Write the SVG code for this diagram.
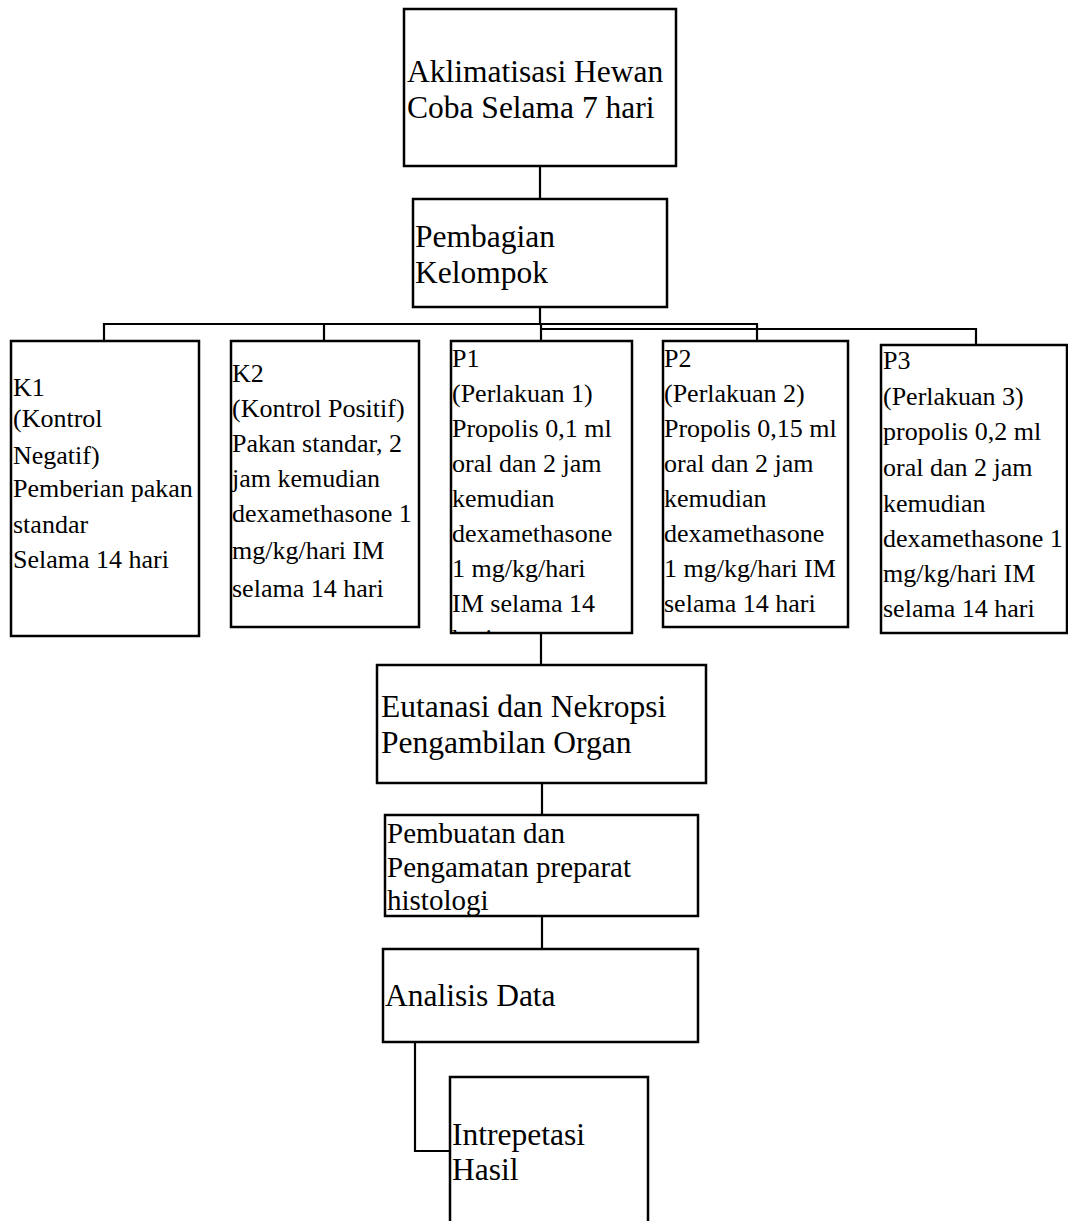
<svg xmlns="http://www.w3.org/2000/svg" width="1068" height="1221" viewBox="0 0 1068 1221">
<style>
  .box { fill: #ffffff; stroke: #000000; stroke-width: 2.5; }
  .t { font-family: "Liberation Serif", "Times New Roman", serif; fill: #000000; }
  .big { font-size: 31.5px; }
  .mid { font-size: 29px; }
  .sm { font-size: 26px; }
  .conn line, .conn polyline { stroke: #000000; stroke-width: 2.2; fill: none; }
</style>
<defs>
  <clipPath id="clipP1"><rect x="451" y="341" width="181" height="291"/></clipPath>
</defs>
<rect x="0" y="0" width="1068" height="1221" fill="#ffffff"/>

<g id="connectors" class="conn">
  <line x1="540" y1="166" x2="540" y2="199"/>
  <line x1="540" y1="307" x2="540" y2="324"/>
  <line x1="104" y1="324" x2="757" y2="324"/>
  <line x1="104" y1="323" x2="104" y2="341"/>
  <line x1="324" y1="323" x2="324" y2="341"/>
  <line x1="757" y1="323" x2="757" y2="341"/>
  <line x1="541" y1="323" x2="541" y2="341"/>
  <polyline points="541,329 976,329 976,345"/>
  <line x1="541" y1="633" x2="541" y2="665"/>
  <line x1="542" y1="783" x2="542" y2="815"/>
  <line x1="542" y1="916" x2="542" y2="949"/>
  <polyline points="415,1042 415,1151 450,1151"/>
</g>

<g id="node-aklimatisasi">
  <rect class="box" x="404" y="9" width="272" height="157"/>
  <text class="t big" x="407" y="82">Aklimatisasi Hewan</text>
  <text class="t big" x="407" y="118">Coba Selama 7 hari</text>
</g>

<g id="node-pembagian">
  <rect class="box" x="413" y="199" width="254" height="108"/>
  <text class="t big" x="415" y="247">Pembagian</text>
  <text class="t big" x="415" y="283">Kelompok</text>
</g>

<g id="node-k1">
  <rect class="box" x="11" y="341" width="188" height="295"/>
  <text class="t sm" x="13" y="396">K1</text>
  <text class="t sm" x="13" y="427">(Kontrol</text>
  <text class="t sm" x="13" y="464">Negatif)</text>
  <text class="t sm" x="13" y="497">Pemberian pakan</text>
  <text class="t sm" x="13" y="533">standar</text>
  <text class="t sm" x="13" y="568">Selama 14 hari</text>
</g>

<g id="node-k2">
  <rect class="box" x="231" y="341" width="188" height="286"/>
  <text class="t sm" x="232" y="382">K2</text>
  <text class="t sm" x="232" y="417">(Kontrol Positif)</text>
  <text class="t sm" x="232" y="452">Pakan standar, 2</text>
  <text class="t sm" x="232" y="487">jam kemudian</text>
  <text class="t sm" x="232" y="522">dexamethasone 1</text>
  <text class="t sm" x="232" y="559">mg/kg/hari IM</text>
  <text class="t sm" x="232" y="597">selama 14 hari</text>
</g>

<g id="node-p1">
  <rect class="box" x="451" y="341" width="181" height="292"/>
  <g clip-path="url(#clipP1)">
    <text class="t sm" x="452" y="367">P1</text>
    <text class="t sm" x="452" y="402">(Perlakuan 1)</text>
    <text class="t sm" x="452" y="437">Propolis 0,1 ml</text>
    <text class="t sm" x="452" y="472">oral dan 2 jam</text>
    <text class="t sm" x="452" y="507">kemudian</text>
    <text class="t sm" x="452" y="542">dexamethasone</text>
    <text class="t sm" x="452" y="577">1 mg/kg/hari</text>
    <text class="t sm" x="452" y="612">IM selama 14</text>
    <text class="t sm" x="452" y="647">hari</text>
  </g>
</g>

<g id="node-p2">
  <rect class="box" x="663" y="341" width="185" height="286"/>
  <text class="t sm" x="664" y="367">P2</text>
  <text class="t sm" x="664" y="402">(Perlakuan 2)</text>
  <text class="t sm" x="664" y="437">Propolis 0,15 ml</text>
  <text class="t sm" x="664" y="472">oral dan 2 jam</text>
  <text class="t sm" x="664" y="507">kemudian</text>
  <text class="t sm" x="664" y="542">dexamethasone</text>
  <text class="t sm" x="664" y="577">1 mg/kg/hari IM</text>
  <text class="t sm" x="664" y="612">selama 14 hari</text>
</g>

<g id="node-p3">
  <rect class="box" x="881" y="345" width="186" height="288"/>
  <text class="t sm" x="883" y="369">P3</text>
  <text class="t sm" x="883" y="405">(Perlakuan 3)</text>
  <text class="t sm" x="883" y="440">propolis 0,2 ml</text>
  <text class="t sm" x="883" y="476">oral dan 2 jam</text>
  <text class="t sm" x="883" y="512">kemudian</text>
  <text class="t sm" x="883" y="547">dexamethasone 1</text>
  <text class="t sm" x="883" y="582">mg/kg/hari IM</text>
  <text class="t sm" x="883" y="617">selama 14 hari</text>
</g>

<g id="node-eutanasi">
  <rect class="box" x="377" y="665" width="329" height="118"/>
  <text class="t big" x="381" y="717">Eutanasi dan Nekropsi</text>
  <text class="t big" x="381" y="753">Pengambilan Organ</text>
</g>

<g id="node-pembuatan">
  <rect class="box" x="385" y="815" width="313" height="101"/>
  <text class="t mid" x="387" y="843">Pembuatan dan</text>
  <text class="t mid" x="387" y="877">Pengamatan preparat</text>
  <text class="t mid" x="387" y="910">histologi</text>
</g>

<g id="node-analisis">
  <rect class="box" x="383" y="949" width="315" height="93"/>
  <text class="t big" x="385" y="1006">Analisis Data</text>
</g>

<g id="node-intrepetasi">
  <rect class="box" x="450" y="1077" width="198" height="170"/>
  <text class="t big" x="452" y="1145">Intrepetasi</text>
  <text class="t big" x="452" y="1180">Hasil</text>
</g>
</svg>
